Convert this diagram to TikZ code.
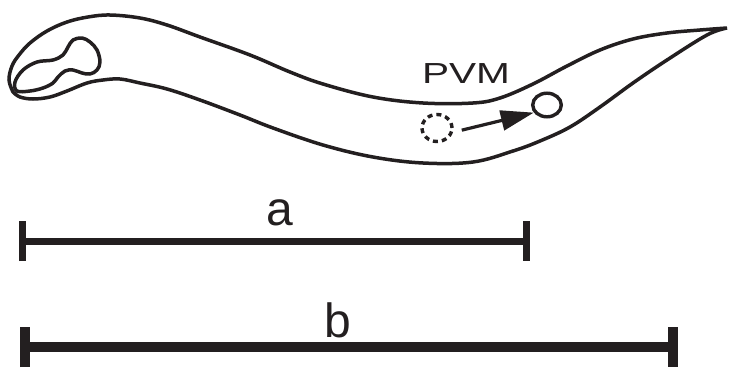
\documentclass[tikz,border=0pt]{standalone}
\usepackage{fontspec}
\setmainfont{Liberation Sans}
\usetikzlibrary{arrows.meta,shapes.geometric}
\definecolor{ink}{RGB}{35,31,32}

\begin{document}
\begin{tikzpicture}[x=1pt,y=-1pt,
  body/.style={draw=ink, line width=3.5pt, line join=round},
  cell/.style={ellipse, draw=ink, line width=3.4pt, inner sep=0pt},
  scalebar/.style={draw=ink, {Bar[width=40pt]}-{Bar[width=40pt]}},
  barlabel/.style={anchor=base, text=ink, font=\fontsize{48}{50}\selectfont}]
\useasboundingbox (0,0) rectangle (739,383);

% worm: head and dorsal side out to the tail tip, then ventral side back
\draw[body, line join=miter]
  plot[smooth, tension=0.6] coordinates {(13,92) (9,80) (12,66) (19,55) (30,43) (47,31) (67,22) (88,17)
    (110,15) (140,18) (167,25) (200,37) (250,55) (290,72) (323,84) (373,97) (423,103) (473,103)
    (500,98) (533,84) (567,66) (600,50) (633,39) (667,33) (700,30) (727,28)}
  -- plot[smooth, tension=0.6] coordinates {(727,28) (707,35) (667,60) (633,83) (600,107) (570,127)
    (540,141) (513,151) (473,162) (423,163) (373,157) (323,145) (273,128) (240,115) (200,100)
    (167,89) (140,83) (120,79) (103,80) (87,83) (67,91) (50,97) (33,99) (20,97) (13,92)}
  -- cycle;

% pharynx
\draw[body] plot[smooth cycle, tension=0.6] coordinates {(15,82) (23,70) (37,62) (53,60) (63,55)
  (68,47) (73,40) (82,38) (90,42) (97,50) (100,62) (97,70) (90,74) (82,73) (73,70) (65,71)
  (58,77) (53,83) (43,88) (30,91) (17,91)};

% PVM cell body, before and after
\node[cell, dash pattern=on 5pt off 4pt, minimum width=30pt, minimum height=27pt] (old) at (437,128) {};
\node[cell, minimum width=28.6pt, minimum height=23.6pt] (new) at (547,105) {};
\node[anchor=base, xscale=1.4, text=ink, font=\fontsize{29}{30}\selectfont] (pvm) at (466,83) {PVM};
\draw[ink, line width=3.2pt, -{Triangle[length=33pt,width=20pt]}, shorten <=9pt] (old.-15) -- (new.210);

% lengths a and b
\coordinate (a0) at (18.5,241);
\coordinate (a1) at (530,241);
\draw[scalebar, line width=7pt] (a0) -- (a1);
\node[barlabel] (la) at (280,225) {a};

\coordinate (b0) at (19.5,347);
\coordinate (b1) at (678,347);
\draw[scalebar, line width=10pt] (b0) -- (b1);
\node[barlabel] (lb) at (338,337) {b};
\end{tikzpicture}
\end{document}
